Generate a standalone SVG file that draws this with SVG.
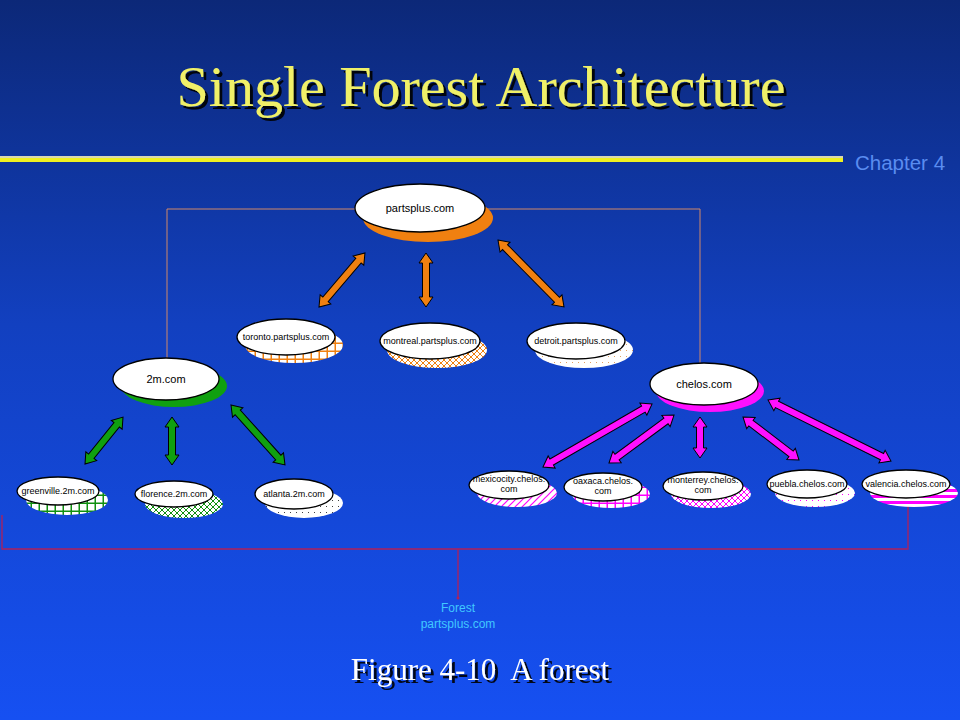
<svg xmlns="http://www.w3.org/2000/svg" width="960" height="720" viewBox="0 0 960 720">
<defs>
<linearGradient id="bg" x1="0" y1="0" x2="0" y2="1">
<stop offset="0" stop-color="#0c2878"/>
<stop offset="0.45" stop-color="#1240c0"/>
<stop offset="1" stop-color="#1650f2"/>
</linearGradient>
<filter id="sh" x="-10%" y="-10%" width="120%" height="130%">
<feOffset in="SourceAlpha" dx="3" dy="3" result="o"/>
<feFlood flood-color="#000" flood-opacity="0.9"/>
<feComposite in2="o" operator="in" result="s"/>
<feMerge><feMergeNode in="s"/><feMergeNode in="SourceGraphic"/></feMerge>
</filter>
<pattern id="gridO" width="8" height="8" patternUnits="userSpaceOnUse"><rect width="8" height="8" fill="#fff"/><rect x="6.5" y="0" width="1.5" height="8" fill="#f08010"/><rect x="0" y="6.5" width="8" height="1.5" fill="#f08010"/></pattern>
<pattern id="xO" width="6" height="6" patternUnits="userSpaceOnUse"><rect width="6" height="6" fill="#fff"/><path d="M0 0L6 6M6 0L0 6" stroke="#f08010" stroke-width="1"/></pattern>
<pattern id="dotO" width="6" height="6" patternUnits="userSpaceOnUse"><rect width="6" height="6" fill="#fff"/><rect x="2" y="2" width="1" height="1" fill="#e0a060"/></pattern>
<pattern id="gridG" width="8" height="8" patternUnits="userSpaceOnUse"><rect width="8" height="8" fill="#fff"/><rect x="6.5" y="0" width="1.5" height="8" fill="#109010"/><rect x="0" y="6.5" width="8" height="1.5" fill="#109010"/></pattern>
<pattern id="xG" width="6" height="6" patternUnits="userSpaceOnUse"><rect width="6" height="6" fill="#fff"/><path d="M0 0L6 6M6 0L0 6" stroke="#109010" stroke-width="1"/></pattern>
<pattern id="dotG" width="6" height="6" patternUnits="userSpaceOnUse"><rect width="6" height="6" fill="#fff"/><rect x="2" y="2" width="1" height="1" fill="#404040"/></pattern>
<pattern id="hatchM" width="7" height="7" patternUnits="userSpaceOnUse"><rect width="7" height="7" fill="#fff"/><path d="M-1 8L8 -1M-1 1L1 -1M6 8L8 6" stroke="#ff00ff" stroke-width="1.2"/></pattern>
<pattern id="gridM" width="8" height="8" patternUnits="userSpaceOnUse"><rect width="8" height="8" fill="#fff"/><rect x="6.5" y="0" width="1.5" height="8" fill="#ff00ff"/><rect x="0" y="6.5" width="8" height="1.5" fill="#ff00ff"/></pattern>
<pattern id="xM" width="6" height="6" patternUnits="userSpaceOnUse"><rect width="6" height="6" fill="#fff"/><path d="M0 0L6 6M6 0L0 6" stroke="#ff00ff" stroke-width="1"/></pattern>
<pattern id="dotM" width="6" height="6" patternUnits="userSpaceOnUse"><rect width="6" height="6" fill="#fff"/><rect x="2" y="2" width="1" height="1" fill="#ff00ff"/></pattern>
<pattern id="stripeM" width="6" height="6" patternUnits="userSpaceOnUse"><rect width="6" height="6" fill="#fff"/><rect y="3" width="6" height="3" fill="#ff00ff"/></pattern>
</defs>
<style>
.nd{fill:#fff;stroke:#000;stroke-width:1.3}
.t{font-family:"Liberation Sans",Arial,sans-serif;font-size:9px;fill:#000;text-anchor:middle}
.tb{font-family:"Liberation Sans",Arial,sans-serif;font-size:11px;fill:#000;text-anchor:middle}
.ao{fill:#f08010;stroke:#000;stroke-width:1}
.ag{fill:#10a010;stroke:#000;stroke-width:1}
.am{fill:#ff10ff;stroke:#000;stroke-width:1}
.br{fill:none;stroke:#d08868;stroke-width:1}
.bb{fill:none;stroke:#b0205a;stroke-width:1.3}
</style>
<rect width="960" height="720" fill="url(#bg)"/>
<g id="title">
<text x="481" y="106" font-family="'Liberation Serif','Times New Roman',serif" font-size="58" fill="#f0f068" text-anchor="middle" filter="url(#sh)">Single Forest Architecture</text>
</g>
<g id="rule">
<rect x="0" y="156" width="843" height="2" fill="#d8d8b0"/>
<rect x="0" y="158" width="843" height="4" fill="#f0f020"/>
<text x="855" y="170" font-family="'Liberation Sans',Arial,sans-serif" font-size="20.5" fill="#5a8cf0">Chapter 4</text>
</g>
<g id="connectors">
<path class="br" d="M167 360V209H700V364"/>
<path class="bb" d="M2 515V549H908V505M458 549V597"/>
<circle cx="458" cy="598" r="1.5" fill="#b0205a"/>
<polygon class="ao" transform="translate(319,307) rotate(-49.6)" points="0,0 10,-7 10,-3.5 60.9,-3.5 60.9,-7 70.9,0 60.9,7 60.9,3.5 10,3.5 10,7"/>
<polygon class="ao" transform="translate(426,253) rotate(90)" points="0,0 10,-7 10,-3.5 44,-3.5 44,-7 54,0 44,7 44,3.5 10,3.5 10,7"/>
<polygon class="ao" transform="translate(498,240) rotate(45.4)" points="0,0 10,-7 10,-3.5 84,-3.5 84,-7 94,0 84,7 84,3.5 10,3.5 10,7"/>
<polygon class="ag" transform="translate(85,464) rotate(-51)" points="0,0 10,-7 10,-3.5 50.4,-3.5 50.4,-7 60.4,0 50.4,7 50.4,3.5 10,3.5 10,7"/>
<polygon class="ag" transform="translate(172,417) rotate(90)" points="0,0 10,-7 10,-3.5 38,-3.5 38,-7 48,0 38,7 38,3.5 10,3.5 10,7"/>
<polygon class="ag" transform="translate(231,405) rotate(48)" points="0,0 10,-7 10,-3.5 70.7,-3.5 70.7,-7 80.7,0 70.7,7 70.7,3.5 10,3.5 10,7"/>
<polygon class="am" transform="translate(543,467) rotate(-30)" points="0,0 10,-7 10,-3.5 115.9,-3.5 115.9,-7 125.9,0 115.9,7 115.9,3.5 10,3.5 10,7"/>
<polygon class="am" transform="translate(609,463) rotate(-36.4)" points="0,0 10,-7 10,-3.5 70.8,-3.5 70.8,-7 80.8,0 70.8,7 70.8,3.5 10,3.5 10,7"/>
<polygon class="am" transform="translate(700,417) rotate(90)" points="0,0 10,-7 10,-3.5 31,-3.5 31,-7 41,0 31,7 31,3.5 10,3.5 10,7"/>
<polygon class="am" transform="translate(743,417) rotate(37.5)" points="0,0 10,-7 10,-3.5 60.6,-3.5 60.6,-7 70.6,0 60.6,7 60.6,3.5 10,3.5 10,7"/>
<polygon class="am" transform="translate(768,400) rotate(26.4)" points="0,0 10,-7 10,-3.5 127.3,-3.5 127.3,-7 137.3,0 127.3,7 127.3,3.5 10,3.5 10,7"/>
</g>
<g id="n-partsplus">
<ellipse cx="428" cy="218" rx="65" ry="24" fill="#f08010"/>
<ellipse class="nd" cx="420" cy="208" rx="65" ry="24"/>
<text class="tb" x="420" y="212">partsplus.com</text>
</g>
<g id="n-toronto">
<ellipse cx="294" cy="345" rx="49" ry="18" fill="url(#gridO)"/>
<ellipse class="nd" cx="286" cy="337" rx="49" ry="18"/>
<text class="t" x="286" y="340">toronto.partsplus.com</text>
</g>
<g id="n-montreal">
<ellipse cx="437" cy="350" rx="50" ry="18" fill="url(#xO)"/>
<ellipse class="nd" cx="430" cy="341" rx="50" ry="18"/>
<text class="t" x="430" y="344">montreal.partsplus.com</text>
</g>
<g id="n-detroit">
<ellipse cx="584" cy="350" rx="49" ry="18" fill="url(#dotO)"/>
<ellipse class="nd" cx="576" cy="341" rx="49" ry="18"/>
<text class="t" x="576" y="344">detroit.partsplus.com</text>
</g>
<g id="n-2m">
<ellipse cx="174" cy="386" rx="53" ry="21" fill="#10a010"/>
<ellipse class="nd" cx="166" cy="379" rx="53" ry="21"/>
<text class="tb" x="166" y="383">2m.com</text>
</g>
<g id="n-chelos">
<ellipse cx="710" cy="391" rx="54" ry="21" fill="#ff10ff"/>
<ellipse class="nd" cx="704" cy="384" rx="54" ry="21"/>
<text class="tb" x="704" y="388">chelos.com</text>
</g>
<g id="n-greenville">
<ellipse cx="67" cy="500" rx="41" ry="15" fill="url(#gridG)"/>
<ellipse class="nd" cx="58" cy="491" rx="41" ry="14"/>
<text class="t" x="58" y="494">greenville.2m.com</text>
</g>
<g id="n-florence">
<ellipse cx="184" cy="504" rx="39" ry="14" fill="url(#xG)"/>
<ellipse class="nd" cx="174" cy="494" rx="39" ry="13"/>
<text class="t" x="174" y="497">florence.2m.com</text>
</g>
<g id="n-atlanta">
<ellipse cx="304" cy="503" rx="39" ry="15" fill="url(#dotG)"/>
<ellipse class="nd" cx="294" cy="494" rx="39" ry="15"/>
<text class="t" x="294" y="497">atlanta.2m.com</text>
</g>
<g id="n-mexicocity">
<ellipse cx="517" cy="493" rx="40" ry="14" fill="url(#hatchM)"/>
<ellipse class="nd" cx="509" cy="485" rx="40" ry="14"/>
<text class="t" x="509" y="482">mexicocity.chelos.</text>
<text class="t" x="509" y="492">com</text>
</g>
<g id="n-oaxaca">
<ellipse cx="611" cy="494" rx="39" ry="14" fill="url(#gridM)"/>
<ellipse class="nd" cx="603" cy="487" rx="39" ry="14"/>
<text class="t" x="603" y="484">oaxaca.chelos.</text>
<text class="t" x="603" y="494">com</text>
</g>
<g id="n-monterrey">
<ellipse cx="711" cy="494" rx="40" ry="14" fill="url(#xM)"/>
<ellipse class="nd" cx="703" cy="486" rx="40" ry="14"/>
<text class="t" x="703" y="483">monterrey.chelos.</text>
<text class="t" x="703" y="493">com</text>
</g>
<g id="n-puebla">
<ellipse cx="815" cy="493" rx="40" ry="14" fill="url(#dotM)"/>
<ellipse class="nd" cx="807" cy="484" rx="40" ry="14"/>
<text class="t" x="807" y="487">puebla.chelos.com</text>
</g>
<g id="n-valencia">
<ellipse cx="914" cy="493" rx="44" ry="14" fill="url(#stripeM)"/>
<ellipse class="nd" cx="906" cy="484" rx="44" ry="14"/>
<text class="t" x="906" y="487">valencia.chelos.com</text>
</g>
<g id="forest-label">
<text x="458" y="612" font-family="'Liberation Sans',Arial,sans-serif" font-size="12" fill="#40c8ff" text-anchor="middle">Forest</text>
<text x="458" y="628" font-family="'Liberation Sans',Arial,sans-serif" font-size="12" fill="#40c8ff" text-anchor="middle">partsplus.com</text>
</g>
<g id="caption">
<text x="480" y="680" font-family="'Liberation Serif','Times New Roman',serif" font-size="31" fill="#fff" text-anchor="middle" xml:space="preserve" filter="url(#sh)">Figure 4-10  A forest</text>
</g>
</svg>
